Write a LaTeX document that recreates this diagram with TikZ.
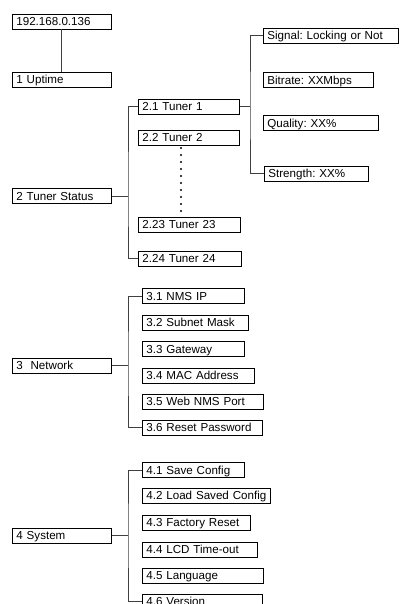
\documentclass[tikz,border=0pt]{standalone}
\usepackage{fontspec}
\setmainfont{Liberation Sans}
\frenchspacing
\tikzset{
  menubox/.style={draw, anchor=west, line width=0.8bp, inner xsep=4bp, inner ysep=0pt,
    minimum height=15bp, text width=#1, text height=9.7bp, text depth=1.5bp, align=left,
    font=\fontsize{11.6bp}{13bp}\selectfont},
  link/.style={draw=black!75, line width=0.9bp},
}
\begin{document}
\begin{tikzpicture}[x=1bp,y=-1bp]
    \useasboundingbox (0,0) rectangle (399,604);
    \clip (0,0) rectangle (399,604);
    % root and uptime
    \node[menubox=91bp] (ip) at (12,21.5) {192.168.0.136};
    \node[menubox=91bp] (up) at (12,79.5) {1 Uptime};
    \draw[link] (ip) -- (up);
    % top-level menus
    \node[menubox=91bp] (ts) at (12,196) {2 Tuner Status};
    \node[menubox=91bp] (nw) at (12,365.5) {3\ \ Network};
    \node[menubox=91bp] (sy) at (12,535.5) {4 System};
    % tuner status
    \node[menubox=93bp] (t1) at (138,106.5) {2.1 Tuner 1};
    \node[menubox=93bp] (t2) at (138,137.5) {2.2 Tuner 2};
    \node[menubox=94bp] (t23) at (138,224.5) {2.23 Tuner 23};
    \node[menubox=95bp] (t24) at (138,258.5) {2.24 Tuner 24};
    \coordinate (tsbus) at (128,196);
    \draw[link] (ts.east) -- (tsbus);
    \draw[link] (t1.west) -| (tsbus) |- (t24.west);
    \foreach \k in {0,...,9}
        \fill (181,148+7*\k) circle (1.1bp);
    % tuner 1 details
    \node[menubox=127bp] (sig) at (263,35.5) {Signal: Locking or Not};
    \node[menubox=102bp] (bit) at (263,80) {Bitrate: XXMbps};
    \node[menubox=107bp] (qua) at (263,123) {Quality: XX\%};
    \node[menubox=96bp] (str) at (264,173.5) {Strength: XX\%};
    \coordinate (t1bus) at (250,106.5);
    \draw[link] (t1.east) -- (t1bus);
    \draw[link] (sig.west) -| (t1bus) |- (str.west);
    % network
    \node[menubox=94bp] (n1) at (142,296) {3.1 NMS IP};
    \node[menubox=98bp] (n2) at (142,322.5) {3.2 Subnet Mask};
    \node[menubox=94bp] (n3) at (142,349) {3.3 Gateway};
    \node[menubox=104bp] (n4) at (142,375.5) {3.4 MAC Address};
    \node[menubox=113bp] (n5) at (142,401.5) {3.5 Web NMS Port};
    \node[menubox=112bp] (n6) at (142,427.5) {3.6 Reset Password};
    \coordinate (nwbus) at (128,365.5);
    \draw[link] (nw.east) -- (nwbus);
    \draw[link] (n1.west) -| (nwbus) |- (n6.west);
    % system
    \node[menubox=94bp] (s1) at (142,470) {4.1 Save Config};
    \node[menubox=120bp] (s2) at (142,495.5) {\mbox{4.2 Load Saved Config}};
    \node[menubox=100bp] (s3) at (142,522.5) {4.3 Factory Reset};
    \node[menubox=107bp] (s4) at (142,549.5) {4.4 LCD Time-out};
    \node[menubox=113bp] (s5) at (142,575.5) {4.5 Language};
    \node[menubox=112bp] (s6) at (142,601.5) {4.6 Version};
    \coordinate (sybus) at (128,535.5);
    \draw[link] (sy.east) -- (sybus);
    \draw[link] (s1.west) -| (sybus) |- (s6.west);
\end{tikzpicture}
\end{document}
